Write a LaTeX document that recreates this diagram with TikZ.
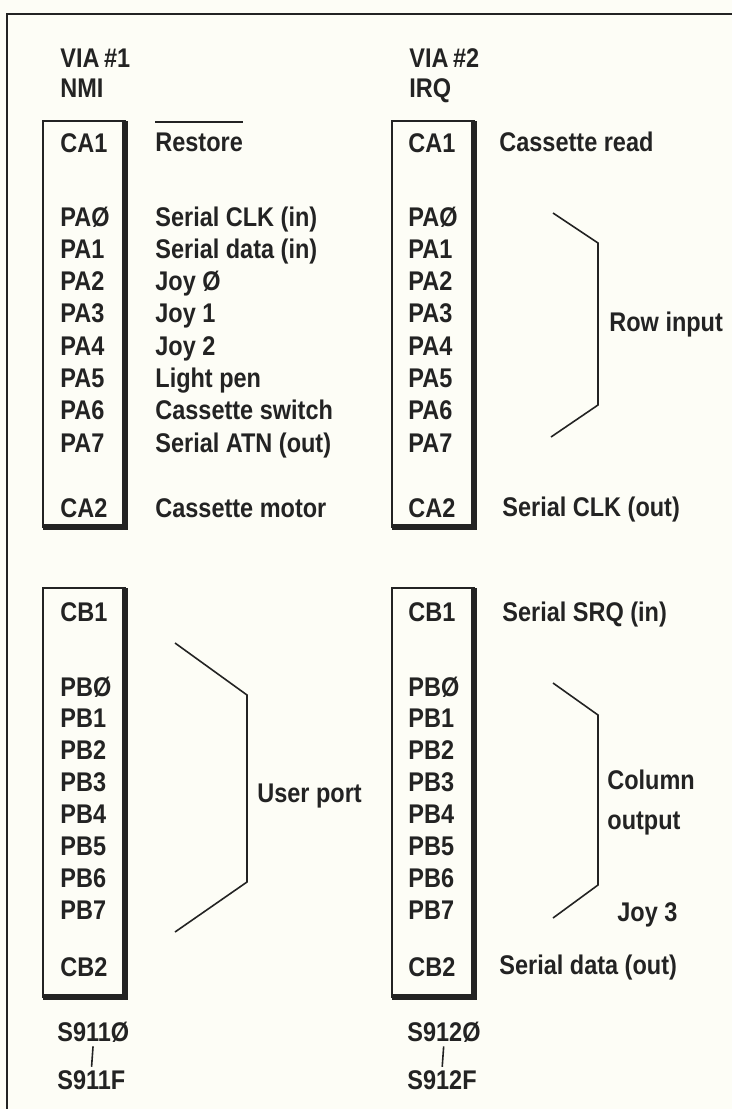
\documentclass[tikz,border=0pt]{standalone}
\usepackage{fontspec}
\setmainfont{Liberation Sans}[FakeStretch=0.87]
\usepackage{tikz}
\usepackage{xcolor}
\definecolor{paper}{RGB}{253,253,246}
\definecolor{ink}{RGB}{35,35,35}

\begin{document}
\begin{tikzpicture}[
        x=0.5pt, y=-0.5pt,
        every node/.style={font=\fontsize{13.5}{16}\selectfont\bfseries, text=ink, inner sep=0pt, anchor=base west},
        pinbox/.style={draw=ink, line width=1.3pt},
        boxshade/.style={draw=ink, line width=2.6pt},
        brace/.style={draw=ink, line width=0.8pt},
        outerframe/.style={draw=ink, line width=1.2pt}
    ]

    \fill[paper] (0,0) rectangle (732,1109);
    \useasboundingbox (0,0) rectangle (732,1109);
    \draw[outerframe] (7,1109) -- (7,14) -- (732,14);

    \node (via1) at (60,67) {VIA\,\#1};
    \node (nmi) at (60,97) {NMI};
    \node (via2) at (409,67) {VIA\,\#2};
    \node (irq) at (409,97) {IRQ};

    % the four port boxes
    \foreach \x/\yt/\yb in {43/121/527, 392/121/527, 43/588/997, 392/588/997} {
        \draw[pinbox] (\x,\yt) rectangle (\x+82,\yb);
        \draw[boxshade] (\x+82,\yt) -- (\x+82,\yb) -- (\x,\yb);
    }

    % port A
    \node (a1-ca1) at (60,152) {CA1};
    \node (a2-ca1) at (408,152) {CA1};
    \node (a1-ca2) at (60,517) {CA2};
    \node (a2-ca2) at (408,517) {CA2};
    \foreach \n [count=\i from 0] in {Ø,1,2,3,4,5,6,7} {
        \node (a1-pa\i) at (60,226+32.3*\i) {PA\n};
        \node (a2-pa\i) at (408,226+32.3*\i) {PA\n};
    }
    \foreach \d [count=\i from 0] in {Serial CLK (in), Serial data (in), Joy Ø, Joy 1, Joy 2, Light pen, Cassette switch, Serial ATN (out)}
        \node (a1-d\i) at (155,226+32.3*\i) {\d};

    \node (restore) at (155,151) {Restore};
    \draw[brace] ([yshift=5pt]restore.north west) -- ([yshift=5pt]restore.north east);
    \node (motor) at (155,517) {Cassette motor};
    \node (casread) at (499,151) {Cassette read};
    \node (clkout) at (502,516) {Serial CLK (out)};

    \draw[brace] (553,213) -- (598,243) -- (598,405) -- (551,437);
    \node (rowin) at (609,331) {Row input};

    % port B
    \node (b1-cb1) at (60,621) {CB1};
    \node (b2-cb1) at (408,621) {CB1};
    \node (b1-cb2) at (60,976) {CB2};
    \node (b2-cb2) at (408,976) {CB2};
    \foreach \n [count=\i from 0] in {Ø,1,2,3,4,5,6,7} {
        \node (b1-pb\i) at (60,696+31.9*\i) {PB\n};
        \node (b2-pb\i) at (408,696+31.9*\i) {PB\n};
    }

    \draw[brace] (175,643) -- (247,695) -- (247,882) -- (175,932);
    \node (userport) at (257,802) {User port};

    \node (srqin) at (502,621) {Serial SRQ (in)};
    \draw[brace] (553,683) -- (598,715) -- (598,885) -- (553,918);
    \node (column) at (607,789) {Column};
    \node (output) at (607,829) {output};
    \node (joy3) at (617,921) {Joy 3};
    \node (dataout) at (499,974) {Serial data (out)};

    % address ranges
    \node (s1lo) at (57,1041) {S911Ø};
    \node (s1hi) at (57,1089) {S911F};
    \node (s2lo) at (407,1041) {S912Ø};
    \node (s2hi) at (407,1089) {S912F};
    \draw[brace, shorten <=2pt, shorten >=1.5pt] (s1lo.south) -- (s1hi.north);
    \draw[brace, shorten <=2pt, shorten >=1.5pt] (s2lo.south) -- (s2hi.north);

\end{tikzpicture}
\end{document}
